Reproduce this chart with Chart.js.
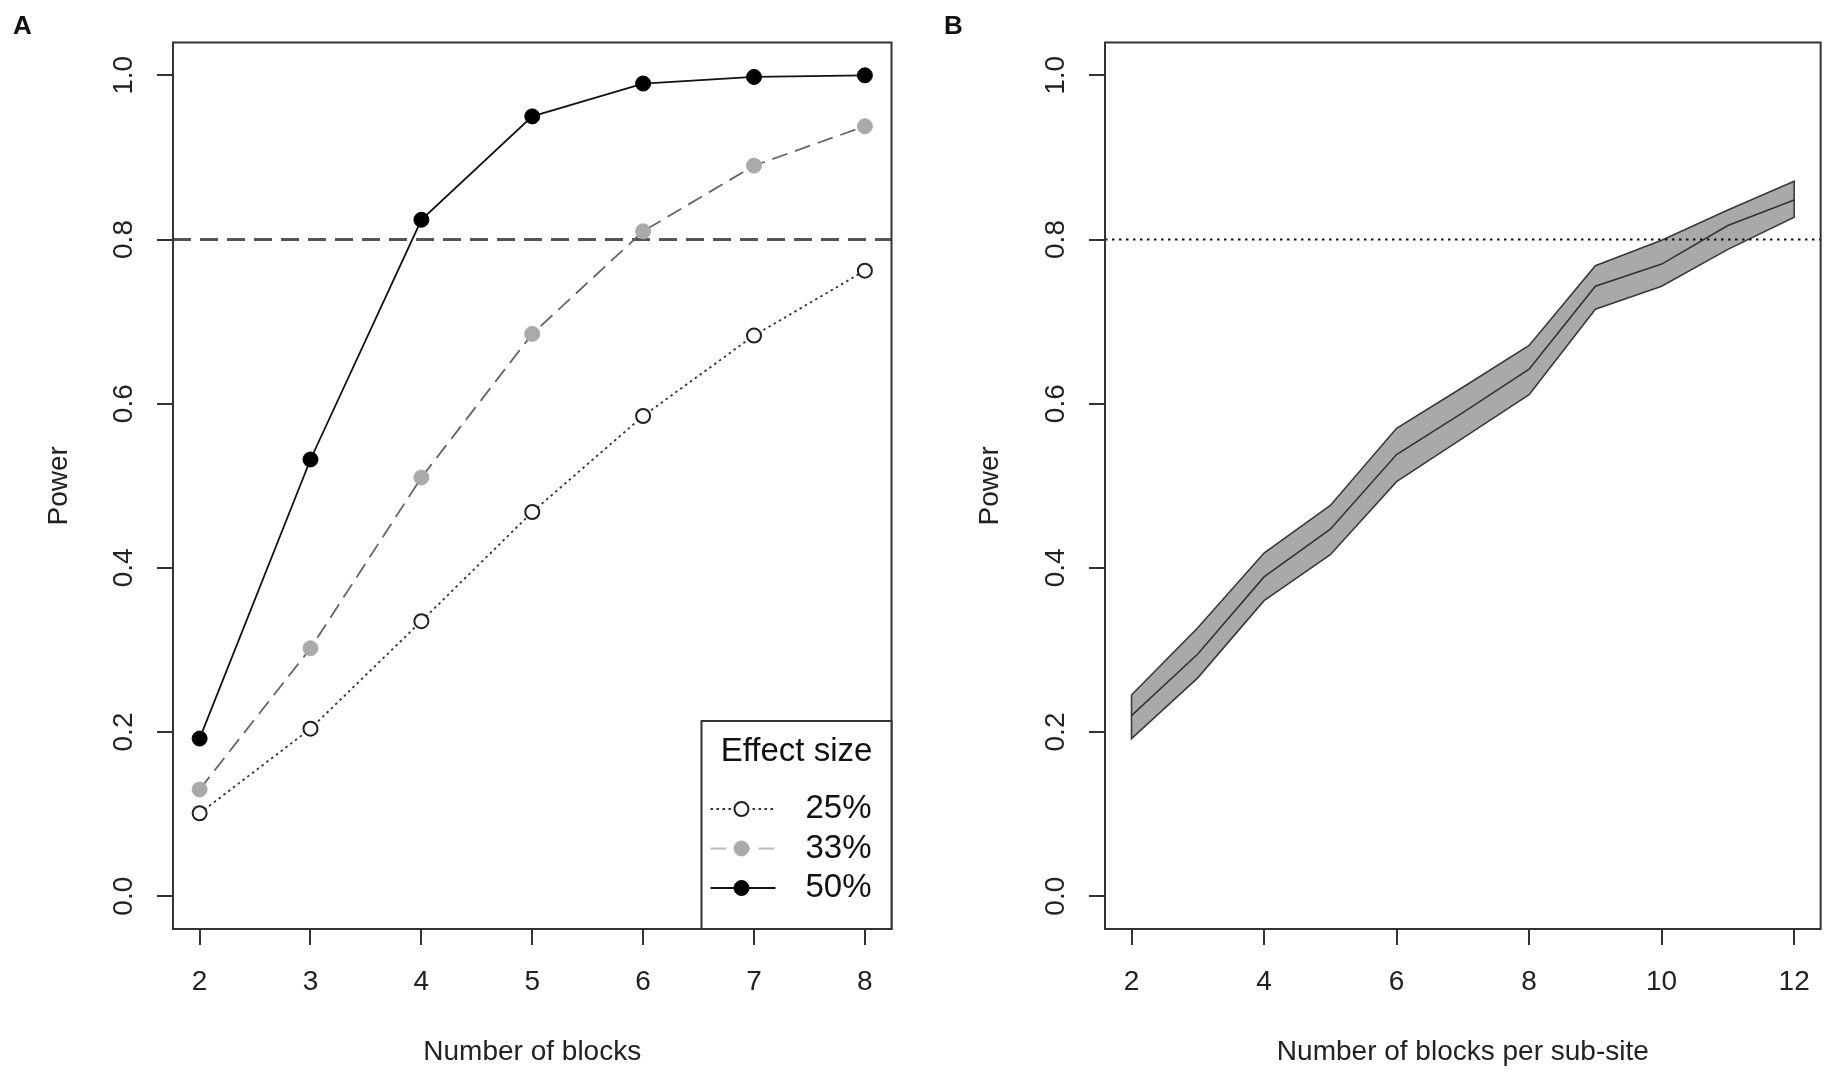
<!DOCTYPE html>
<html><head><meta charset="utf-8">
<script src="https://cdn.jsdelivr.net/npm/chart.js@4.4.1/dist/chart.umd.min.js"></script>
<style>
html,body{margin:0;padding:0;background:#fff;}
#wrap{position:relative;width:1830px;height:1074px;overflow:hidden;background:#fff;}
canvas{position:absolute;top:0;}
.pl{position:absolute;font:bold 26px 'Liberation Sans',Arial,sans-serif;line-height:26px;color:#111;}
</style></head><body>
<div id="wrap">
<canvas id="cA" width="915" height="1074" style="left:0"></canvas>
<canvas id="cB" width="915" height="1074" style="left:915px"></canvas>
<div class="pl" style="left:13px;top:12px">A</div>
<div class="pl" style="left:944px;top:12px">B</div>
</div>
<script>
// ---------- data ----------
const blocksA = [2, 3, 4, 5, 6, 7, 8];
const effectLabels = ['25%', '33%', '50%'];
const power25 = [0.101, 0.204, 0.335, 0.468, 0.585, 0.683, 0.762];
const power33 = [0.130, 0.302, 0.510, 0.685, 0.810, 0.890, 0.938];
const power50 = [0.192, 0.532, 0.824, 0.950, 0.990, 0.998, 1.000];

const blocksB = [2, 3, 4, 5, 6, 7, 8, 9, 10, 11, 12];
const powerMeanB  = [0.220, 0.295, 0.389, 0.447, 0.538, 0.589, 0.642, 0.743, 0.770, 0.817, 0.848];
const powerUpperB = [0.245, 0.327, 0.418, 0.476, 0.570, 0.620, 0.671, 0.768, 0.799, 0.836, 0.871];
const powerLowerB = [0.192, 0.266, 0.360, 0.416, 0.505, 0.558, 0.611, 0.715, 0.743, 0.788, 0.827];

const yTicks = [0, 0.2, 0.4, 0.6, 0.8, 1.0];
const yTickLabels = ['0.0', '0.2', '0.4', '0.6', '0.8', '1.0'];
const xTicksA = [2, 3, 4, 5, 6, 7, 8];
const xTicksB = [2, 4, 6, 8, 10, 12];
const xRangeA = [1.76, 8.24];
const xRangeB = [1.6, 12.4];
const yRange = [-0.04, 1.04];
const targetPower = [0.8, 0.8];
const legendTitle = 'Effect size';

// ---------- helpers ----------
const FONT = "'Liberation Sans', Arial, sans-serif";
Chart.defaults.font.family = FONT;
Chart.defaults.color = '#222';
const toXY = (xs, ys) => xs.map((x, i) => ({x: x, y: ys[i]}));

function yScale(w, labelPad, titlePad) {
  return {
    type: 'linear', min: yRange[0], max: yRange[1],
    afterBuildTicks: s => { s.ticks = yTicks.map(v => ({value: v})); },
    afterFit: s => { s.width = w; },
    ticks: {
      callback: (v, i) => yTickLabels[i],
      minRotation: 90, maxRotation: 90, crossAlign: 'center',
      padding: labelPad, color: '#222', font: {size: 28}
    },
    grid: {drawOnChartArea: false, drawTicks: true, tickLength: 16, color: '#333', lineWidth: 2},
    border: {display: false},
    title: {display: true, text: 'Power', color: '#222', font: {size: 28}, padding: {top: titlePad, bottom: 0}}
  };
}
function xScale(range, ticks, title, h) {
  return {
    type: 'linear', min: range[0], max: range[1],
    afterBuildTicks: s => { s.ticks = ticks.map(v => ({value: v})); },
    afterFit: s => { s.height = h; },
    ticks: {
      callback: (v, i) => String(ticks[i]), minRotation: 0, maxRotation: 0, autoSkip: false,
      padding: 20, color: '#222', font: {size: 28}
    },
    grid: {drawOnChartArea: false, drawTicks: true, tickLength: 16, color: '#333', lineWidth: 2},
    border: {display: false},
    title: {display: true, text: title, color: '#222', font: {size: 28}, padding: {top: 0, bottom: 5}}
  };
}
const boxPlugin = {
  id: 'box',
  afterDatasetsDraw(chart) {
    const {ctx, chartArea: a} = chart;
    ctx.save();
    ctx.strokeStyle = '#333'; ctx.lineWidth = 2; ctx.setLineDash([]);
    ctx.strokeRect(a.left, a.top, a.right - a.left, a.bottom - a.top);
    ctx.restore();
  }
};
const legendPlugin = {
  id: 'effLegend',
  afterDraw(chart) {
    const {ctx, chartArea: a} = chart;
    const L = a.right - 190, T = a.bottom - 208;
    ctx.save();
    ctx.fillStyle = '#fff';
    ctx.fillRect(L, T, a.right - L, a.bottom - T);
    ctx.strokeStyle = '#333'; ctx.lineWidth = 2; ctx.setLineDash([]);
    ctx.strokeRect(L, T, a.right - L, a.bottom - T);
    ctx.fillStyle = '#111';
    ctx.font = "33px " + FONT;
    ctx.textBaseline = 'middle';
    ctx.textAlign = 'center';
    ctx.fillText(legendTitle, (L + a.right) / 2, T + 31);
    const items = chart.data.datasets.filter(d => d.inLegend);
    items.forEach((d, i) => {
      const y = T + 88 + i * 39.5;
      ctx.strokeStyle = d.legendLineColor || d.borderColor;
      ctx.lineWidth = 2;
      ctx.setLineDash(d.borderDash || []);
      ctx.beginPath(); ctx.moveTo(L + 9, y); ctx.lineTo(L + 74, y); ctx.stroke();
      ctx.setLineDash([]);
      ctx.beginPath(); ctx.arc(L + 40, y, d.pointRadius, 0, Math.PI * 2);
      ctx.fillStyle = d.pointBackgroundColor; ctx.fill();
      ctx.strokeStyle = d.pointBorderColor; ctx.lineWidth = d.pointBorderWidth; ctx.stroke();
      ctx.fillStyle = '#111';
      ctx.textAlign = 'left';
      ctx.fillText(d.label, L + 104, y);
    });
    ctx.restore();
  }
};
const common = {
  responsive: false, animation: false, events: [],
  plugins: {legend: {display: false}, tooltip: {enabled: false}}
};

// ---------- Panel A ----------
new Chart(document.getElementById('cA'), {
  type: 'line',
  data: {
    datasets: [
      {label: 'target', order: 4, data: toXY(xRangeA, targetPower), borderColor: '#555', borderWidth: 3,
       borderDash: [18, 9], pointRadius: 0, fill: false},
      {label: effectLabels[0], order: 3, inLegend: true, data: toXY(blocksA, power25), borderColor: '#333',
       borderWidth: 1.8, borderDash: [2.5, 3.5], pointRadius: 7, pointBackgroundColor: '#fff',
       pointBorderColor: '#222', pointBorderWidth: 2, fill: false, tension: 0},
      {label: effectLabels[1], order: 2, inLegend: true, data: toXY(blocksA, power33), borderColor: '#666',
       legendLineColor: '#bbb', borderWidth: 1.8, borderDash: [16, 8], pointRadius: 7.5,
       pointBackgroundColor: '#aaa', pointBorderColor: '#aaa', pointBorderWidth: 1, fill: false, tension: 0},
      {label: effectLabels[2], order: 1, inLegend: true, data: toXY(blocksA, power50), borderColor: '#111',
       borderWidth: 1.8, pointRadius: 7.5, pointBackgroundColor: '#000', pointBorderColor: '#000',
       pointBorderWidth: 1, fill: false, tension: 0}
    ]
  },
  options: Object.assign({}, common, {
    layout: {padding: {left: 0, top: 42.5, right: 23.5, bottom: 0}},
    scales: {
      x: xScale(xRangeA, xTicksA, 'Number of blocks', 145),
      y: yScale(173, 12.8, 42.8)
    }
  }),
  plugins: [boxPlugin, legendPlugin]
});

// ---------- Panel B ----------
const outlineX = blocksB.concat(blocksB.slice().reverse(), [blocksB[0]]);
const outlineY = powerUpperB.concat(powerLowerB.slice().reverse(), [powerUpperB[0]]);
new Chart(document.getElementById('cB'), {
  type: 'line',
  data: {
    datasets: [
      {label: 'upper', order: 5, data: toXY(blocksB, powerUpperB), borderColor: 'transparent', borderWidth: 1,
       backgroundColor: '#a9a9a9', fill: '+1', pointRadius: 0, tension: 0},
      {label: 'lower', order: 4, data: toXY(blocksB, powerLowerB), borderColor: 'transparent', borderWidth: 1,
       fill: false, pointRadius: 0, tension: 0},
      {label: 'outline', order: 3, data: toXY(outlineX, outlineY), borderColor: '#3a3a3a', borderWidth: 1.6,
       fill: false, pointRadius: 0, tension: 0},
      {label: 'mean', order: 2, data: toXY(blocksB, powerMeanB), borderColor: '#333', borderWidth: 1.6,
       fill: false, pointRadius: 0, tension: 0},
      {label: 'target', order: 1, data: toXY(xRangeB, targetPower), borderColor: '#111', borderWidth: 2,
       borderDash: [2.5, 4.5], pointRadius: 0, fill: false}
    ]
  },
  options: Object.assign({}, common, {
    layout: {padding: {left: 0, top: 42.5, right: 7.4, bottom: 0}},
    scales: {
      x: xScale(xRangeB, xTicksB, 'Number of blocks per sub-site', 145),
      y: yScale(190, 13.7, 58.2)
    }
  }),
  plugins: [boxPlugin]
});
</script>
</body></html>
